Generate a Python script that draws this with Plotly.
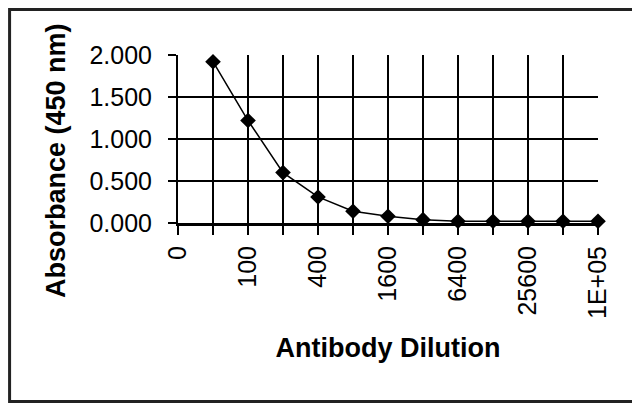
import plotly.graph_objects as go

# Data
dilutions = ["0", "50", "100", "200", "400", "800", "1600", "3200",
             "6400", "12800", "25600", "51200", "102400"]
tick_labels = ["0", "", "100", "", "400", "", "1600", "", "6400", "", "25600", "", "1E+05"]
absorbance = [None, 1.92, 1.22, 0.60, 0.31, 0.14, 0.08, 0.04, 0.02, 0.02, 0.02, 0.02, 0.02]

font_family = "Liberation Sans, Arial, sans-serif"

fig = go.Figure()
fig.add_trace(go.Scatter(
    x=dilutions, y=absorbance, mode="lines+markers",
    line=dict(color="black", width=1.5),
    marker=dict(symbol="diamond", size=12, color="black"),
    cliponaxis=False, showlegend=False,
))

fig.update_layout(
    width=632, height=395,
    margin=dict(l=170, r=42, t=47, b=180, autoexpand=False),
    paper_bgcolor="white", plot_bgcolor="white",
    font=dict(family=font_family, color="black"),
    xaxis=dict(
        type="category", categoryorder="array", categoryarray=dilutions,
        range=[0, 12], tickmode="array", tickvals=dilutions, ticktext=tick_labels,
        tickangle=-90, tickfont=dict(size=25, family=font_family),
        ticks="outside", ticklen=9, tickwidth=2, tickcolor="black",
        showgrid=True, gridcolor="black", gridwidth=2,
        showline=True, linecolor="black", linewidth=3, zeroline=False,
        ticklabelstandoff=1,
        title=dict(text="<b>Antibody Dilution</b>", font=dict(size=27, family=font_family), standoff=21),
    ),
    yaxis=dict(
        range=[0, 2], dtick=0.5, tick0=0, tickformat=".3f",
        tickfont=dict(size=25, family=font_family),
        ticks="outside", ticklen=8, tickwidth=2, tickcolor="black",
        showgrid=True, gridcolor="black", gridwidth=2,
        showline=True, linecolor="black", linewidth=2, zeroline=False,
        ticklabelstandoff=11,
    ),
    annotations=[dict(text="<b>Absorbance (450 nm)</b>", textangle=-90,
                      xref="paper", yref="paper", x=-0.2905, y=0.375,
                      xanchor="center", yanchor="middle", showarrow=False,
                      font=dict(size=27, family=font_family, color="black"))],
    shapes=[dict(type="rect", xref="paper", yref="paper",
                 x0=-0.401, x1=1.12, y0=-1.0625, y1=1.271,
                 line=dict(color="#222222", width=3), layer="below")],
)

fig.write_html("out.html")
